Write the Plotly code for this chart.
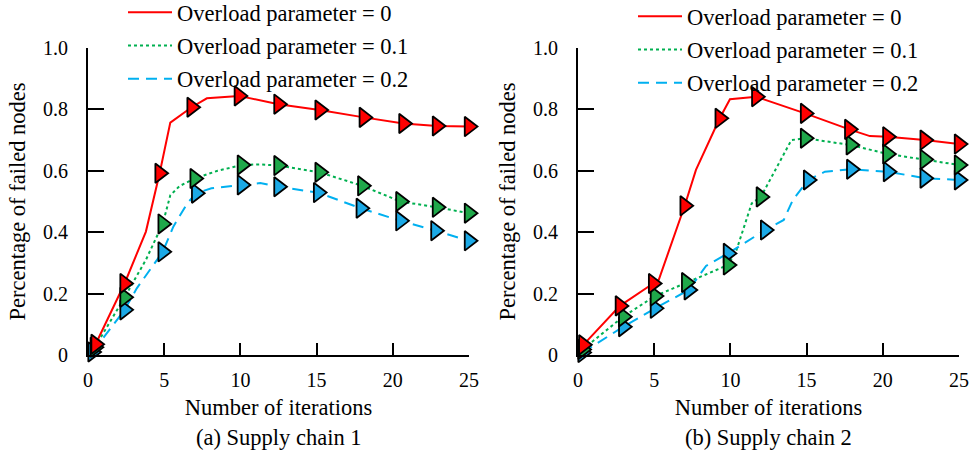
import plotly.graph_objects as go

W, H = 971, 453
FONT = "Liberation Serif, Times New Roman, DejaVu Serif, serif"

labels = ["Overload parameter = 0", "Overload parameter = 0.1", "Overload parameter = 0.2"]
line_colors = ["#FF0000", "#00B050", "#00B0F0"]
fill_colors = ["#FF0000", "#1FA84A", "#1BA9E6"]
dashes = ["solid", "3px,3px", "11px,7px"]

# ---- Supply chain 1 ----
a_red_line_x = [0.5, 2.4, 3.8, 4.7, 5.4, 6.8, 7.8, 9.9, 12.5, 15.2, 18.1, 20.7, 22.9, 25.0]
a_red_line_y = [0.035, 0.233, 0.402, 0.592, 0.757, 0.807, 0.836, 0.844, 0.817, 0.798, 0.774, 0.754, 0.746, 0.744]
a_red_mk_x = [0.5, 2.4, 4.7, 6.8, 9.9, 12.5, 15.2, 18.1, 20.7, 22.9, 25.0]
a_red_mk_y = [0.035, 0.233, 0.592, 0.807, 0.844, 0.817, 0.798, 0.774, 0.754, 0.746, 0.744]

a_grn_line_x = [0.45, 2.4, 3.8, 4.9, 5.4, 6.0, 7.0, 8.5, 10.1, 11.3, 12.5, 15.2, 18.0, 20.5, 22.9, 25.0]
a_grn_line_y = [0.025, 0.188, 0.31, 0.427, 0.52, 0.55, 0.575, 0.60, 0.619, 0.621, 0.617, 0.595, 0.551, 0.500, 0.481, 0.462]
a_grn_mk_x = [0.45, 2.4, 4.9, 7.0, 10.1, 12.5, 15.2, 18.0, 20.5, 22.9, 25.0]
a_grn_mk_y = [0.025, 0.188, 0.427, 0.575, 0.619, 0.617, 0.595, 0.551, 0.500, 0.481, 0.462]

a_blu_line_x = [0.3, 2.4, 3.2, 4.9, 5.6, 6.5, 7.1, 8.1, 10.1, 11.3, 12.5, 15.1, 17.9, 20.5, 22.8, 25.0]
a_blu_line_y = [0.01, 0.147, 0.217, 0.336, 0.418, 0.493, 0.527, 0.543, 0.554, 0.56, 0.548, 0.529, 0.478, 0.437, 0.405, 0.372]
a_blu_mk_x = [0.3, 2.4, 4.9, 7.1, 10.1, 12.5, 15.1, 17.9, 20.5, 22.8, 25.0]
a_blu_mk_y = [0.01, 0.147, 0.336, 0.527, 0.554, 0.548, 0.529, 0.478, 0.437, 0.405, 0.372]

# ---- Supply chain 2 ----
b_red_line_x = [0.35, 2.75, 4.93, 5.3, 7.0, 7.74, 9.3, 9.97, 11.7, 14.9, 17.8, 19.15, 20.3, 22.75, 25.0]
b_red_line_y = [0.033, 0.16, 0.233, 0.245, 0.486, 0.603, 0.771, 0.833, 0.841, 0.787, 0.735, 0.713, 0.711, 0.70, 0.687]
b_red_mk_x = [0.35, 2.75, 4.93, 7.0, 9.3, 11.7, 14.9, 17.8, 20.3, 22.75, 25.0]
b_red_mk_y = [0.033, 0.16, 0.233, 0.486, 0.771, 0.841, 0.787, 0.735, 0.711, 0.70, 0.687]

b_grn_line_x = [0.3, 2.97, 5.05, 7.1, 9.84, 10.4, 11.4, 12.0, 14.0, 14.9, 17.9, 20.3, 22.75, 25.0]
b_grn_line_y = [0.018, 0.125, 0.192, 0.236, 0.293, 0.342, 0.494, 0.515, 0.70, 0.706, 0.684, 0.655, 0.637, 0.619]
b_grn_mk_x = [0.3, 2.97, 5.05, 7.1, 9.84, 12.0, 14.9, 17.9, 20.3, 22.75, 25.0]
b_grn_mk_y = [0.018, 0.125, 0.192, 0.236, 0.293, 0.515, 0.706, 0.684, 0.655, 0.637, 0.619]

b_blu_line_x = [0.3, 2.97, 5.05, 7.27, 8.4, 9.84, 12.28, 13.5, 14.1, 15.1, 16.2, 17.93, 20.34, 22.75, 25.0]
b_blu_line_y = [0.008, 0.092, 0.152, 0.212, 0.29, 0.331, 0.407, 0.44, 0.505, 0.57, 0.597, 0.605, 0.597, 0.576, 0.57]
b_blu_mk_x = [0.3, 2.97, 5.05, 7.27, 9.84, 12.28, 15.1, 17.93, 20.34, 22.75, 25.0]
b_blu_mk_y = [0.008, 0.092, 0.152, 0.212, 0.331, 0.407, 0.57, 0.605, 0.597, 0.576, 0.57]

x_ticks = [0, 5, 10, 15, 20, 25]
y_ticks = [0, 0.2, 0.4, 0.6, 0.8, 1.0]
y_ticktext = ["0", "0.2", "0.4", "0.6", "0.8", "1.0"]
x_title = "Number of iterations"
y_title = "Percentage of failed nodes"
captions = ["(a) Supply chain 1", "(b) Supply chain 2"]

panels = [
    dict(xa="x", ya="y", leg="legend",
         lines=[(a_red_line_x, a_red_line_y), (a_grn_line_x, a_grn_line_y), (a_blu_line_x, a_blu_line_y)],
         marks=[(a_red_mk_x, a_red_mk_y), (a_grn_mk_x, a_grn_mk_y), (a_blu_mk_x, a_blu_mk_y)]),
    dict(xa="x2", ya="y2", leg="legend2",
         lines=[(b_red_line_x, b_red_line_y), (b_grn_line_x, b_grn_line_y), (b_blu_line_x, b_blu_line_y)],
         marks=[(b_red_mk_x, b_red_mk_y), (b_grn_mk_x, b_grn_mk_y), (b_blu_mk_x, b_blu_mk_y)]),
]

fig = go.Figure()
for p in panels:
    for i in range(3):
        lx, ly = p["lines"][i]
        fig.add_trace(go.Scatter(
            x=lx, y=ly, mode="lines", name=labels[i], xaxis=p["xa"], yaxis=p["ya"],
            line=dict(color=line_colors[i], width=2, dash=dashes[i]),
            legend=p["leg"], legendgroup=f"{p['leg']}_{i}", legendrank=i + 1,
            cliponaxis=False))
    for i in [2, 1, 0]:
        mx, my = p["marks"][i]
        fig.add_trace(go.Scatter(
            x=mx, y=my, mode="markers", showlegend=False, xaxis=p["xa"], yaxis=p["ya"],
            marker=dict(symbol="triangle-right", size=17, color=fill_colors[i],
                        line=dict(color="black", width=1.8)),
            cliponaxis=False))

def px_x(v):
    return v / W

def px_y(v):
    return 1 - v / H

axis_common = dict(showgrid=False, zeroline=False, showline=True, linecolor="black", linewidth=2,
                   ticks="inside", tickcolor="black", tickwidth=2, automargin=False,
                   tickfont=dict(family=FONT, size=20, color="black"))

x_doms = [[px_x(88), px_x(469)], [px_x(578), px_x(959)]]
y_dom = [px_y(355), px_y(48)]

TXT = 22.5
layout = dict(
    width=W, height=H, margin=dict(l=0, r=0, t=0, b=0, autoexpand=False),
    paper_bgcolor="white", plot_bgcolor="white",
    font=dict(family=FONT, size=TXT, color="black"),
    showlegend=True,
)
for k, xa, ya in [(0, "xaxis", "yaxis"), (1, "xaxis2", "yaxis2")]:
    anchor_y = "y" if k == 0 else "y2"
    anchor_x = "x" if k == 0 else "x2"
    layout[xa] = dict(axis_common, domain=x_doms[k], anchor=anchor_y, range=[0, 25],
                      tickvals=x_ticks, ticklen=12, ticklabelstandoff=6,
                      title=dict(text=x_title, font=dict(family=FONT, size=TXT), standoff=9))
    layout[ya] = dict(axis_common, domain=y_dom, anchor=anchor_x, range=[0, 1],
                      tickvals=y_ticks, ticktext=y_ticktext, ticklen=16, ticklabelstandoff=14,
                      title=dict(text=y_title, font=dict(family=FONT, size=TXT), standoff=11))

leg_common = dict(bgcolor="rgba(0,0,0,0)", font=dict(family=FONT, size=TXT, color="black"),
                  xanchor="left", yanchor="top", traceorder="grouped", tracegroupgap=1,
                  itemwidth=44)
layout["legend"] = dict(leg_common, x=px_x(123), y=px_y(-9))
layout["legend2"] = dict(leg_common, x=px_x(633), y=px_y(-5))

annotations = []
for k in range(2):
    annotations.append(dict(text=captions[k], xref="paper", yref="paper",
                            x=(x_doms[k][0] + x_doms[k][1]) / 2, y=px_y(437),
                            xanchor="center", yanchor="middle", showarrow=False,
                            font=dict(family=FONT, size=TXT, color="black")))
layout["annotations"] = annotations

fig.update_layout(**layout)
fig.write_html("out.html", config={"displayModeBar": False},
               post_script="document.body.style.margin='0';document.body.style.padding='0';")
